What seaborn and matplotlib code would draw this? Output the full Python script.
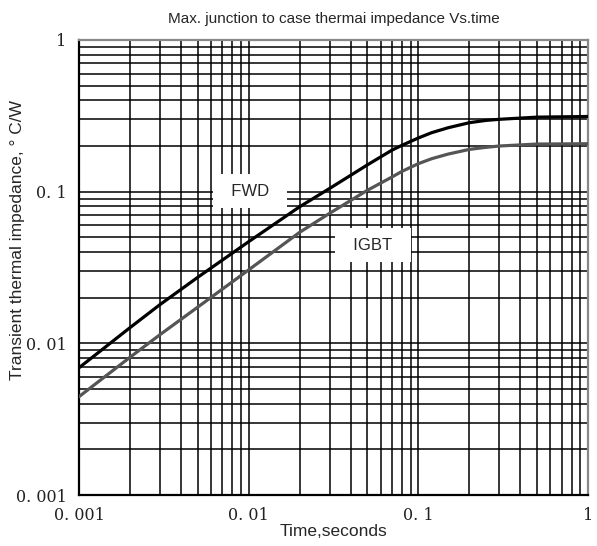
import numpy as np
import pandas as pd
import matplotlib
matplotlib.use("Agg")
import matplotlib.pyplot as plt
import seaborn as sns
from matplotlib.ticker import FixedLocator, LogLocator, NullFormatter

# values (time in s, Zth in C/W)
time_s = [0.001, 0.002, 0.003, 0.005, 0.01, 0.02, 0.03, 0.05, 0.07, 0.08, 0.1,
          0.12, 0.15, 0.2, 0.25, 0.3, 0.5, 1.0]
fwd = [0.0069, 0.0127, 0.018, 0.0272, 0.0468, 0.0796, 0.105, 0.15, 0.188, 0.202, 0.226,
       0.245, 0.264, 0.285, 0.295, 0.30, 0.31, 0.313]
igbt = [0.00445, 0.0081, 0.0114, 0.0173, 0.0305, 0.054, 0.072, 0.102, 0.125, 0.136, 0.153,
        0.165, 0.177, 0.19, 0.196, 0.20, 0.206, 0.207]

x_ticks = [0.001, 0.01, 0.1, 1]
x_ticklabels = ["0. 001", "0. 01", "0. 1", "1"]
y_ticks = [0.001, 0.01, 0.1, 1]
y_ticklabels = ["0. 001", "0. 01", "0. 1", "1"]

df = pd.DataFrame({
    "time": time_s + time_s,
    "zth": fwd + igbt,
    "device": ["FWD"] * len(time_s) + ["IGBT"] * len(time_s),
})

sns.set_style("white")
plt.rcParams["font.family"] = ["Liberation Sans", "DejaVu Sans"]

fig, ax = plt.subplots(figsize=(5.97, 5.46), dpi=100)
fig.subplots_adjust(left=79 / 597, right=588 / 597, top=1 - 40 / 546, bottom=1 - 495 / 546)

sns.lineplot(data=df, x="time", y="zth", hue="device",
             palette={"FWD": "#000000", "IGBT": "#555555"},
             linewidth=2.3, legend=False, ax=ax, zorder=3)

ax.set_xscale("log")
ax.set_yscale("log")
ax.set_xlim(0.001, 1)
ax.set_ylim(0.001, 1)

ax.xaxis.set_major_locator(FixedLocator(x_ticks))
ax.yaxis.set_major_locator(FixedLocator(y_ticks))
ax.xaxis.set_minor_locator(LogLocator(base=10, subs=np.arange(2, 10)))
ax.yaxis.set_minor_locator(LogLocator(base=10, subs=np.arange(2, 10)))
ax.xaxis.set_minor_formatter(NullFormatter())
ax.yaxis.set_minor_formatter(NullFormatter())
ax.set_xticklabels(x_ticklabels, family="DejaVu Serif", fontsize=11.5, color="#222222")
ax.set_yticklabels(y_ticklabels, family="DejaVu Serif", fontsize=11.5, color="#222222")
ax.tick_params(which="both", length=0)
ax.tick_params(axis="x", pad=9)
ax.tick_params(axis="y", pad=9)

ax.grid(True, which="both", color="black", linewidth=1.1)
ax.set_axisbelow(True)

for side in ["top", "right"]:
    ax.spines[side].set_color("#888888")
    ax.spines[side].set_linewidth(1.6)
for side in ["left", "bottom"]:
    ax.spines[side].set_color("black")
    ax.spines[side].set_linewidth(1.6)

ax.set_title("Max. junction to case thermai impedance Vs.time", fontsize=11, pad=12)
ax.set_xlabel("Time,seconds", fontsize=12.5, labelpad=0)
ax.set_ylabel("Transient thermal impedance, ° C/W", fontsize=12.5)
ax.yaxis.set_label_coords(-0.107, 0.56)

box = dict(boxstyle="square,pad=0.55", facecolor="white", edgecolor="none")
ax.text(0.0102, 0.101, "  FWD  ", fontsize=12, ha="center", va="center", bbox=box, zorder=4)
ax.text(0.054, 0.0444, "  IGBT  ", fontsize=12, ha="center", va="center", bbox=box, zorder=4)

fig.savefig("out.png", dpi=100)
